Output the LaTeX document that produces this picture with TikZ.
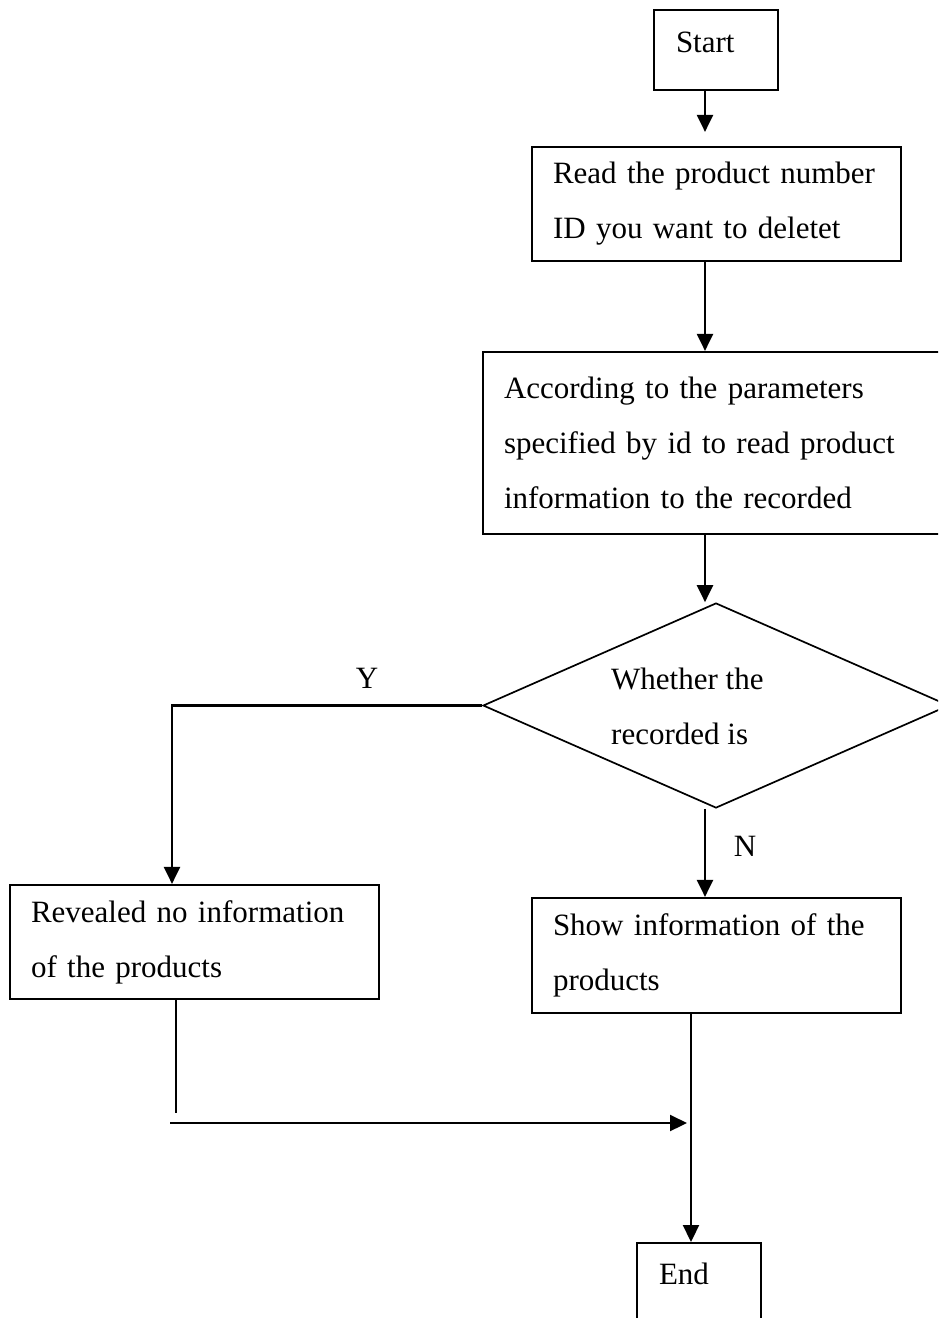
\documentclass[tikz,border=0pt]{standalone}
\usepackage{fontspec}
\setmainfont{Liberation Serif}
\usetikzlibrary{arrows.meta,shapes.geometric}
% keep a text line from breaking inside a box
\newcommand{\oneline}[1]{\mbox{#1}}
\begin{document}
\begin{tikzpicture}[x=1pt,y=-1pt,
  every node/.style={font=\fontsize{31}{55}\selectfont},
  box/.style={draw, line width=2.2pt, inner xsep=21pt, inner ysep=0pt, align=left, anchor=center},
  flow/.style={line width=2.2pt, -{Triangle[length=17pt,width=16pt]}},
  plain/.style={line width=2.2pt},
  lbl/.style={inner sep=0pt}
]
\clip (0,0) rectangle (938,1318);
\fill[white] (0,0) rectangle (938,1318);

% process boxes
\node[box, text width=80pt, inner xsep=22pt, text height=42pt, text depth=38pt] (start) at (716,50) {Start};
\node[box, text width=327pt, minimum height=114pt] (b2) at (716.5,204) {\oneline{Read the product number}\\\oneline{ID you want to deletet}};
\node[box, text width=425pt, minimum height=182pt] (b3) at (716.5,443) {\oneline{According to the parameters}\\\oneline{specified by id to read product}\\\oneline{information to the recorded}};
\node[draw, diamond, line width=1.7pt, minimum width=466pt, minimum height=205pt, inner sep=0pt] (dec) at (716,705.5) {};
\node[lbl, anchor=west, align=left] (qtext) at (611,706) {Whether the\\recorded is};
\node[box, text width=327pt, minimum height=114pt] (b4) at (194.5,942) {\oneline{Revealed no information}\\\oneline{of the products}};
\node[box, text width=327pt, minimum height=115pt] (b5) at (716.5,955.5) {\oneline{Show information of the}\\\oneline{products}};
\node[box, text width=80pt, inner xsep=22pt, text height=41pt, text depth=90pt, anchor=north] (end) at (699,1242) {End};

% branch labels
\node[lbl] (ylab) at (367,678) {Y};
\node[lbl] (nlab) at (745,846) {N};

% connector columns
\coordinate (col) at (705,0);
\coordinate (ycol) at (172,0);
\coordinate (ecol) at (691,0);
\coordinate (lcol) at (176,0);
\coordinate (lend) at (176,1113);
\coordinate (hs) at (170,1123);
\coordinate (he) at (687,1123);

% connectors
\draw[flow, shorten >=14pt] (start.south -| col) -- (b2.north -| col);
\draw[flow] (b2.south -| col) -- (b3.north -| col);
\draw[flow] (b3.south -| col) -- (dec.north -| col);
\draw[flow] (dec.west) -| (b4.north -| ycol);
\draw[flow] (dec.south -| col) -- (b5.north -| col);
\draw[flow] (b5.south -| ecol) -- (end.north -| ecol);
\draw[plain, line width=1.6pt] (b4.south -| lcol) -- (lend);
\draw[flow] (hs) -- (he);
\end{tikzpicture}
\end{document}
